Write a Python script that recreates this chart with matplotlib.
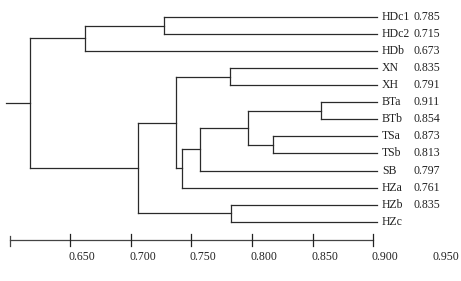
import matplotlib
matplotlib.use('Agg')
import matplotlib.pyplot as plt

# leaves, top to bottom, and the value printed beside each
leaves = ['HDc1', 'HDc2', 'HDb', 'XN', 'XH', 'BTa', 'BTb',
          'TSa', 'TSb', 'SB', 'HZa', 'HZb', 'HZc']
leaf_vals = ['0.785', '0.715', '0.673', '0.835', '0.791', '0.911', '0.854',
             '0.873', '0.813', '0.797', '0.761', '0.835', '']

# merges: (child a, child b, similarity); 'cN' = result of merge N
merges = [
    ('HDc1', 'HDc2', 0.727),   # c0
    ('c0', 'HDb', 0.662),      # c1
    ('XN', 'XH', 0.782),       # c2
    ('BTa', 'BTb', 0.857),     # c3
    ('TSa', 'TSb', 0.817),     # c4
    ('c3', 'c4', 0.797),       # c5
    ('c5', 'SB', 0.757),       # c6
    ('c6', 'HZa', 0.742),      # c7
    ('c2', 'c7', 0.737),       # c8
    ('HZb', 'HZc', 0.783),     # c9
    ('c8', 'c9', 0.706),       # c10
    ('c1', 'c10', 0.617),      # c11
]

ticks = [0.650, 0.700, 0.750, 0.800, 0.850, 0.900]
tick_labels = ['0.650', '0.700', '0.750', '0.800', '0.850', '0.900', '0.950']

leaf_x = 0.903
root_x = 0.597
lc = '#2a2a2a'

fig = plt.figure(figsize=(4.61, 2.81), dpi=100)
ax = fig.add_axes([0, 0, 1, 1])
ax.set_xlim(0.5920, 0.9724)
ax.set_ylim(15.475, -0.9965)
ax.axis('off')

pos = {name: (leaf_x, i) for i, name in enumerate(leaves)}
for k, (a, b, s) in enumerate(merges):
    xa, ya = pos[a]
    xb, yb = pos[b]
    ax.plot([xa, s], [ya, ya], color=lc, lw=0.9)
    ax.plot([xb, s], [yb, yb], color=lc, lw=0.9)
    ax.plot([s, s], [ya, yb], color=lc, lw=0.9)
    pos['c%d' % k] = (s, (ya + yb) / 2)

# root stem
rx, ry = pos['c%d' % (len(merges) - 1)]
ax.plot([root_x, rx], [ry, ry], color=lc, lw=0.9)

font = dict(family='Liberation Serif', fontsize=8.5, color='#222222')
for i, (name, v) in enumerate(zip(leaves, leaf_vals)):
    ax.text(0.9071, i, name, ha='left', va='center', **font)
    ax.text(0.9336, i, v, ha='left', va='center', **font)

# scale bar
ax.plot([0.600, 0.900], [13.07, 13.07], color='#444444', lw=0.9)
ax.plot([0.600, 0.600], [12.85, 13.40], color='#444444', lw=0.9)
for t in ticks:
    ax.plot([t, t], [12.72, 13.40], color='#222222', lw=0.9)
for t, lab in zip(ticks + [0.950], tick_labels):
    ax.text(t + 0.0098, 14.07, lab, ha='center', va='center', **font)

fig.savefig('out.png', dpi=100, facecolor='white')
